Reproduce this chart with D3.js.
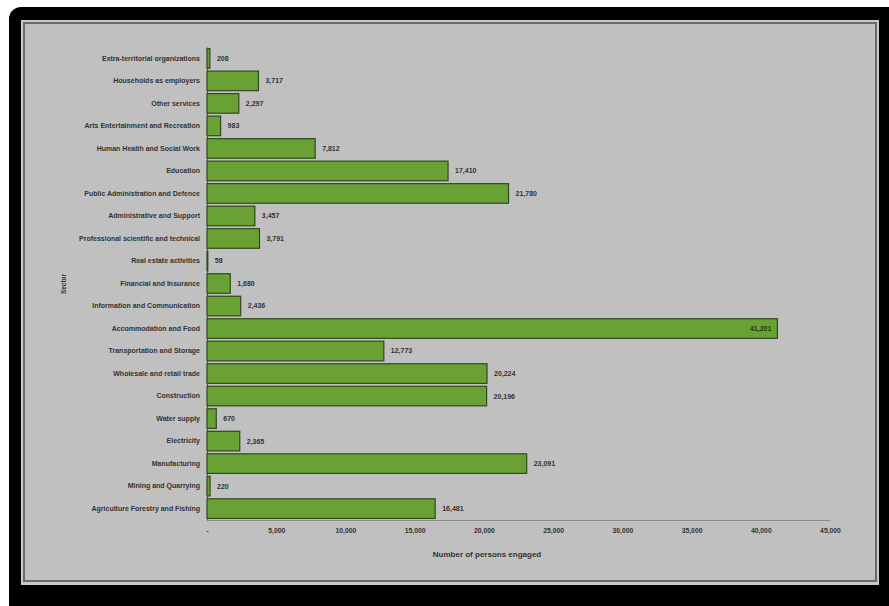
<!DOCTYPE html>
<html>
<head>
<meta charset="utf-8">
<script src="https://cdn.jsdelivr.net/npm/d3@7"></script>
<style>
  body { margin: 0; background: #fff; }
  svg text { font-family: "Liberation Sans", Arial, sans-serif; }
</style>
</head>
<body>
<div id="chart"></div>
<script>
// Sectors, top to bottom as drawn
const sectors = [
  "Extra-territorial organizations",
  "Households as employers",
  "Other services",
  "Arts Entertainment and Recreation",
  "Human Health and Social Work",
  "Education",
  "Public Administration and Defence",
  "Administrative and Support",
  "Professional scientific  and technical",
  "Real estate activities",
  "Financial and Insurance",
  "Information and Communication",
  "Accommodation and Food",
  "Transportation and Storage",
  "Wholesale and retail trade",
  "Construction",
  "Water supply",
  "Electricity",
  "Manufacturing",
  "Mining and Quarrying",
  "Agriculture Forestry and Fishing"
];
const persons = [208, 3717, 2297, 983, 7812, 17410, 21780, 3457, 3791, 58, 1680, 2436,
  41201, 12773, 20224, 20196, 670, 2365, 23091, 220, 16481];
const xTicks = [0, 5000, 10000, 15000, 20000, 25000, 30000, 35000, 40000, 45000];

const width = 889, height = 606;
const svg = d3.select("#chart").append("svg")
  .attr("width", width)
  .attr("height", height);

// black frame with rounded corners
svg.append("rect")
  .attr("x", 9).attr("y", 7)
  .attr("width", 900).attr("height", 620)
  .attr("rx", 12)
  .attr("fill", "#000");

// grey chart panel
svg.append("rect")
  .attr("x", 21).attr("y", 20)
  .attr("width", 858).attr("height", 565)
  .attr("fill", "#c9c9c9");
svg.append("rect")
  .attr("x", 24).attr("y", 23)
  .attr("width", 852).attr("height", 558)
  .attr("fill", "#c0c0c0")
  .attr("stroke", "#6a6a6a")
  .attr("stroke-width", 2);

const margin = { top: 47, left: 207 };
const chartWidth = 623, chartHeight = 473;

const g = svg.append("g")
  .attr("transform", `translate(${margin.left}, ${margin.top})`);

const xScale = d3.scaleLinear().domain([0, 45000]).range([0, chartWidth]);
const yScale = d3.scaleBand().domain(sectors).range([0, chartHeight]).paddingInner(0.13).paddingOuter(0.07);

// x axis
const xAxis = d3.axisBottom(xScale)
  .tickValues(xTicks)
  .tickSize(0)
  .tickPadding(8)
  .tickFormat(d => d === 0 ? "-" : d3.format(",")(d));
const xg = g.append("g")
  .attr("transform", `translate(0, ${chartHeight})`)
  .call(xAxis);
xg.select(".domain").attr("stroke", "#8a8a8a");
xg.selectAll("text")
  .attr("font-size", "6.8px")
  .attr("font-weight", "bold")
  .attr("fill", "#333");

// y axis
const yAxis = d3.axisLeft(yScale).tickSize(0).tickPadding(7);
const yg = g.append("g").call(yAxis);
yg.select(".domain").attr("stroke", "#555");
yg.selectAll("text")
  .attr("font-size", "7px")
  .attr("font-weight", "bold")
  .attr("fill", "#333");

// bars
g.selectAll(".bar")
  .data(sectors)
  .enter()
  .append("rect")
  .attr("class", "bar")
  .attr("x", 0)
  .attr("y", d => yScale(d))
  .attr("width", (d, i) => xScale(persons[i]))
  .attr("height", yScale.bandwidth())
  .attr("fill", "#6aa135")
  .attr("stroke", "#2f4a1c")
  .attr("stroke-width", 1.2);

// value labels
g.selectAll(".val")
  .data(sectors)
  .enter()
  .append("text")
  .attr("class", "val")
  .attr("x", (d, i) => persons[i] > 40000 ? xScale(persons[i]) - 6 : xScale(persons[i]) + 7)
  .attr("y", d => yScale(d) + yScale.bandwidth() / 2)
  .attr("dy", "0.35em")
  .attr("text-anchor", (d, i) => persons[i] > 40000 ? "end" : "start")
  .attr("font-size", "7px")
  .attr("font-weight", "bold")
  .attr("fill", (d, i) => persons[i] > 40000 ? "#1f3a10" : "#333")
  .text((d, i) => d3.format(",")(persons[i]));

// axis titles
svg.append("text")
  .attr("x", 487).attr("y", 557)
  .attr("text-anchor", "middle")
  .attr("font-size", "8px")
  .attr("font-weight", "bold")
  .attr("fill", "#333")
  .text("Number of persons engaged");

svg.append("text")
  .attr("transform", "translate(66, 284) rotate(-90)")
  .attr("text-anchor", "middle")
  .attr("font-size", "6.5px")
  .attr("font-weight", "bold")
  .attr("fill", "#333")
  .text("Sector");
</script>
</body>
</html>
